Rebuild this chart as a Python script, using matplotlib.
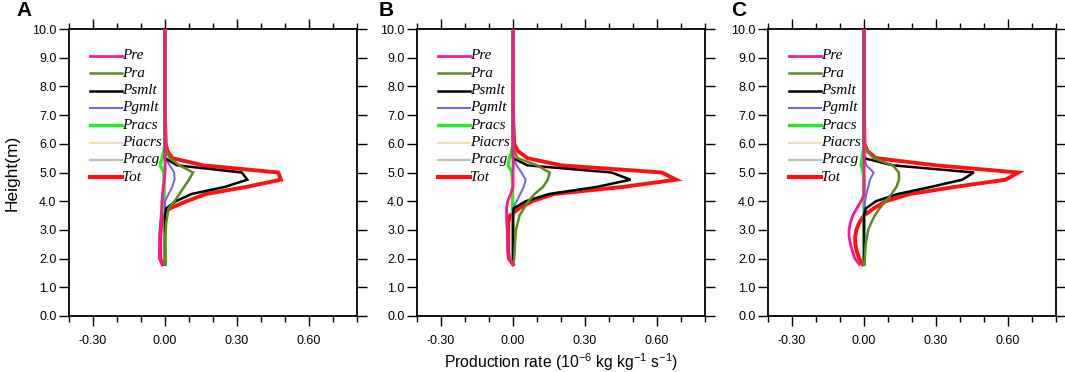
import matplotlib
matplotlib.use("Agg")
import matplotlib.pyplot as plt
from matplotlib.lines import Line2D
from matplotlib.ticker import MultipleLocator, FixedLocator
import numpy as np

# ---------------- data ----------------
heights = [1.8, 2.0, 2.25, 2.5, 2.75, 3.0, 3.25, 3.5, 3.75, 4.0, 4.25, 4.5,
           4.75, 5.0, 5.25, 5.5, 5.75, 6.0, 7.0, 8.0, 9.0, 10.0]

names = ["Pre", "Pra", "Psmlt", "Pgmlt", "Pracs", "Piacrs", "Pracg", "Tot"]
panel_labels = ["A", "B", "C"]

# Panel A
A_Pre    = [-0.012, -0.022, -0.022, -0.021, -0.020, -0.020, -0.018, -0.016, -0.014, -0.013, -0.010, -0.007, -0.003, 0.0, 0.0, 0.0, 0.0, 0.0, 0.0, 0.0, 0.0, 0.0]
A_Pra    = [0.0, 0.0, 0.0, 0.0, 0.0, 0.003, 0.005, 0.010, 0.015, 0.040, 0.060, 0.080, 0.100, 0.117, 0.060, 0.020, 0.005, 0.0, 0.0, 0.0, 0.0, 0.0]
A_Psmlt  = [0.0, 0.0, 0.0, 0.0, 0.0, 0.0, 0.0, 0.0, 0.005, 0.045, 0.110, 0.250, 0.343, 0.320, 0.050, 0.0, 0.0, 0.0, 0.0, 0.0, 0.0, 0.0]
A_Pgmlt  = [0.0, 0.0, 0.0, 0.0, 0.0, 0.0, 0.0, 0.0, 0.0, 0.0, 0.015, 0.030, 0.040, 0.038, 0.020, 0.0, 0.0, 0.0, 0.0, 0.0, 0.0, 0.0]
A_Pracs  = [0.0, 0.0, 0.0, 0.0, 0.0, 0.0, 0.0, 0.0, -0.004, -0.004, -0.004, -0.004, -0.004, -0.005, -0.020, -0.012, -0.005, 0.0, 0.0, 0.0, 0.0, 0.0]
A_Piacrs = [0.0, 0.0, 0.0, 0.0, 0.0, 0.0, 0.0, 0.0, 0.0, 0.0, 0.0, 0.0, 0.0, 0.0, 0.0, 0.003, 0.003, 0.001, 0.0, 0.0, 0.0, 0.0]
A_Pracg  = [0.0, 0.0, 0.0, 0.0, 0.0, 0.0, 0.0, 0.0, 0.0, 0.0, 0.0, 0.0, 0.0, 0.0, 0.002, 0.005, 0.003, 0.0, 0.0, 0.0, 0.0, 0.0]
A_Tot    = [-0.010, -0.020, -0.020, -0.020, -0.020, -0.018, -0.015, -0.010, 0.020, 0.090, 0.170, 0.340, 0.483, 0.472, 0.160, 0.030, 0.010, 0.003, 0.0, 0.0, 0.0, 0.0]

# Panel B
B_Pre    = [0.0, -0.015, -0.020, -0.021, -0.022, -0.024, -0.026, -0.027, -0.027, -0.022, -0.010, 0.0, 0.0, 0.0, 0.0, 0.0, 0.0, 0.0, 0.0, 0.0, 0.0, 0.0]
B_Pra    = [0.0, 0.005, 0.007, 0.008, 0.010, 0.0125, 0.020, 0.027, 0.045, 0.065, 0.090, 0.125, 0.145, 0.153, 0.100, 0.020, 0.005, 0.0, 0.0, 0.0, 0.0, 0.0]
B_Psmlt  = [0.0, 0.0, 0.0, 0.0, 0.0, 0.0, 0.0, 0.0, 0.003, 0.053, 0.150, 0.350, 0.490, 0.410, 0.060, 0.0, 0.0, 0.0, 0.0, 0.0, 0.0, 0.0]
B_Pgmlt  = [0.0, 0.0, 0.0, 0.0, 0.0, 0.0, 0.0, 0.0, 0.0, 0.015, 0.030, 0.045, 0.053, 0.035, 0.015, 0.0, 0.0, 0.0, 0.0, 0.0, 0.0, 0.0]
B_Pracs  = [0.0, 0.0, 0.0, 0.0, 0.0, 0.0, 0.0, 0.0, -0.002, -0.002, -0.002, -0.002, -0.002, -0.005, -0.020, -0.015, -0.005, 0.0, 0.0, 0.0, 0.0, 0.0]
B_Piacrs = [0.0, 0.0, 0.0, 0.0, 0.0, 0.0, 0.0, 0.0, 0.0, 0.0, 0.0, 0.0, 0.0, 0.0, 0.0, 0.003, 0.003, 0.001, 0.0, 0.0, 0.0, 0.0]
B_Pracg  = [0.0, 0.0, 0.0, 0.0, 0.0, 0.0, 0.0, 0.0, 0.0, 0.0, 0.0, 0.0, 0.0, 0.0, 0.003, 0.008, 0.005, 0.0, 0.0, 0.0, 0.0, 0.0]
B_Tot    = [0.0, -0.017, -0.020, -0.020, -0.020, -0.020, -0.020, -0.012, 0.025, 0.080, 0.170, 0.460, 0.680, 0.620, 0.200, 0.060, 0.020, 0.005, 0.0, 0.0, 0.0, 0.0]

# Panel C
C_Pre    = [-0.020, -0.038, -0.048, -0.056, -0.062, -0.0625, -0.057, -0.047, -0.030, -0.012, 0.0, 0.0, 0.0, 0.0, 0.0, 0.0, 0.0, 0.0, 0.0, 0.0, 0.0, 0.0]
C_Pra    = [0.0, 0.003, 0.005, 0.007, 0.012, 0.018, 0.030, 0.045, 0.065, 0.090, 0.115, 0.135, 0.146, 0.145, 0.120, 0.040, 0.013, 0.0, 0.0, 0.0, 0.0, 0.0]
C_Psmlt  = [0.0, 0.0, 0.0, 0.0, 0.0, 0.0, 0.0, 0.0, 0.008, 0.050, 0.140, 0.280, 0.410, 0.458, 0.120, 0.0, 0.0, 0.0, 0.0, 0.0, 0.0, 0.0]
C_Pgmlt  = [0.0, 0.0, 0.0, 0.0, 0.0, 0.0, 0.0, 0.0, 0.0, 0.005, 0.010, 0.018, 0.025, 0.040, 0.010, 0.0, 0.0, 0.0, 0.0, 0.0, 0.0, 0.0]
C_Pracs  = [0.0, 0.0, 0.0, 0.0, 0.0, 0.0, 0.0, 0.0, 0.0, 0.0, 0.0, 0.0, 0.0, -0.003, -0.012, -0.008, -0.003, 0.0, 0.0, 0.0, 0.0, 0.0]
C_Piacrs = [0.0, 0.0, 0.0, 0.0, 0.0, 0.0, 0.0, 0.0, 0.0, 0.0, 0.0, 0.0, 0.0, 0.0, 0.0, 0.003, 0.003, 0.001, 0.0, 0.0, 0.0, 0.0]
C_Pracg  = [0.0, 0.0, 0.0, 0.0, 0.0, 0.0, 0.0, 0.0, 0.0, 0.0, 0.0, 0.0, 0.0, 0.0, 0.003, 0.008, 0.005, 0.0, 0.0, 0.0, 0.0, 0.0]
C_Tot    = [-0.005, -0.020, -0.030, -0.036, -0.037, -0.032, -0.020, 0.0, 0.040, 0.090, 0.190, 0.380, 0.590, 0.643, 0.300, 0.050, 0.014, 0.002, 0.0, 0.0, 0.0, 0.0]

panels = [
    [A_Pre, A_Pra, A_Psmlt, A_Pgmlt, A_Pracs, A_Piacrs, A_Pracg, A_Tot],
    [B_Pre, B_Pra, B_Psmlt, B_Pgmlt, B_Pracs, B_Piacrs, B_Pracg, B_Tot],
    [C_Pre, C_Pra, C_Psmlt, C_Pgmlt, C_Pracs, C_Piacrs, C_Pracg, C_Tot],
]

x_ticks = [-0.30, 0.00, 0.30, 0.60]
x_ticklabels = ["-0.30", "0.00", "0.30", "0.60"]
y_ticks = [0.0, 1.0, 2.0, 3.0, 4.0, 5.0, 6.0, 7.0, 8.0, 9.0, 10.0]
y_ticklabels = ["0.0", "1.0", "2.0", "3.0", "4.0", "5.0", "6.0", "7.0", "8.0", "9.0", "10.0"]

# ---------------- style ----------------
colors = ["#FF1493", "#5B8C1A", "#000000", "#7060E8", "#22EE22", "#FFD8B0", "#BEBEBE", "#FF1010"]
widths = [2.0, 1.8, 1.8, 1.4, 2.4, 1.6, 1.6, 2.8]
draw_order = [7, 6, 5, 4, 3, 2, 1, 0]

W, H = 1065, 372
fig = plt.figure(figsize=(W / 100, H / 100), dpi=100)
lefts = [69, 417, 768]
letter_x = [24.5, 386, 738.5]
ax_w, top, bot = 288, 29, 316

sans = "Liberation Sans"
serif = "Liberation Serif"

for p, (series, lab) in enumerate(zip(panels, panel_labels)):
    ax = fig.add_axes([lefts[p] / W, 1 - bot / H, ax_w / W, (bot - top) / H])
    for k in draw_order:
        ax.plot(series[k], heights, color=colors[k], lw=widths[k],
                solid_joinstyle="miter", zorder=3)
    ax.set_xlim(-0.4, 0.8)
    ax.set_ylim(0, 10)
    ax.xaxis.set_major_locator(FixedLocator(x_ticks))
    ax.set_xticklabels(x_ticklabels, fontsize=9, family=sans)
    ax.xaxis.set_minor_locator(MultipleLocator(0.1))
    ax.yaxis.set_major_locator(FixedLocator(y_ticks))
    ax.set_yticklabels(y_ticklabels, fontsize=9, family=sans)
    ax.tick_params(which="both", direction="out", top=True, right=True, width=1.0)
    ax.tick_params(which="major", length=7)
    ax.tick_params(which="minor", length=4)
    ax.tick_params(axis="x", which="both", pad=7)
    ax.tick_params(axis="y", which="both", pad=2)
    for s in ax.spines.values():
        s.set_linewidth(1.3)

    # legend drawn manually
    for i, k in enumerate(range(8)):
        yy = 0.906 - i * 0.0603
        ax.add_line(Line2D([0.073, 0.183], [yy, yy], transform=ax.transAxes,
                           color=colors[k], lw=widths[k] if k != 7 else 3.0, zorder=5))
        ax.text(0.183, yy, names[k], transform=ax.transAxes, fontsize=11,
                family=serif, style="italic", va="center", ha="left", zorder=6)

    fig.text(letter_x[p] / W, 1 - 10 / H, lab, fontsize=15, fontweight="bold",
             family=sans, ha="center", va="center")

    if p == 0:
        ax.set_ylabel("Height(m)", fontsize=12.5, family=sans, labelpad=9)
    if p == 1:
        ax.set_xlabel(r"Production rate (10$^{\mathregular{-6}}$ kg kg$^{\mathregular{-1}}$ s$^{\mathregular{-1}}$)",
                      fontsize=11.3, family=sans, labelpad=3)

fig.savefig("out.png", dpi=100)
